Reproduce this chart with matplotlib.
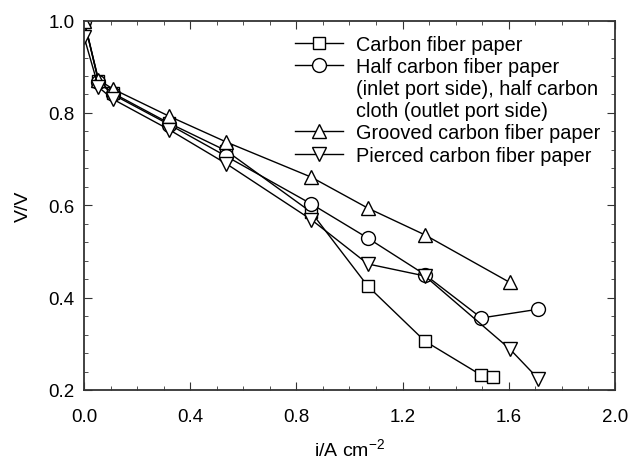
import numpy as np
import matplotlib
matplotlib.use("Agg")
from matplotlib import pyplot as plt
from matplotlib.lines import Line2D
from matplotlib.ticker import MultipleLocator

plt.rcParams['font.family'] = ['Liberation Sans', 'DejaVu Sans']
plt.rcParams['mathtext.fontset'] = 'custom'
plt.rcParams['mathtext.rm'] = 'Liberation Sans'

# current density (A cm-2) and cell voltage (V)
i_cfp = [0.0, 0.054, 0.108, 0.32, 0.536, 0.856, 1.069, 1.284, 1.497, 1.541]
v_cfp = [1.0, 0.870, 0.843, 0.778, 0.718, 0.585, 0.425, 0.306, 0.232, 0.228]

i_half = [0.0, 0.054, 0.108, 0.32, 0.536, 0.856, 1.069, 1.284, 1.497, 1.712]
v_half = [1.0, 0.868, 0.840, 0.775, 0.706, 0.603, 0.529, 0.450, 0.356, 0.375]

i_groove = [0.0, 0.054, 0.108, 0.32, 0.536, 0.856, 1.069, 1.284, 1.604]
v_groove = [1.0, 0.872, 0.852, 0.793, 0.737, 0.661, 0.594, 0.536, 0.433]

i_pierce = [0.0, 0.054, 0.108, 0.32, 0.536, 0.856, 1.069, 1.284, 1.604, 1.712]
v_pierce = [0.964, 0.856, 0.830, 0.764, 0.690, 0.569, 0.473, 0.447, 0.289, 0.224]

labels = ["Carbon fiber paper",
          ["Half carbon fiber paper", "(inlet port side), half carbon", "cloth (outlet port side)"],
          "Grooved carbon fiber paper",
          "Pierced carbon fiber paper"]

fig = plt.figure(figsize=(6.28, 4.6), dpi=100)
ax = fig.add_axes([0.134, 0.15, 0.845, 0.803])

series = [(i_cfp, v_cfp, 's'), (i_half, v_half, 'o'),
          (i_groove, v_groove, '^'), (i_pierce, v_pierce, 'v')]
handles, texts = [], []
for (x, y, m), lab in zip(series, labels):
    line, = ax.plot(x, y, color='black', lw=1, marker=m, ms=10 if m != 's' else 9,
                    mfc='white', mec='black', mew=1)
    if isinstance(lab, list):
        # multi-line entry: marker only on the first line
        handles.append(line)
        texts.append(lab[0])
        for extra in lab[1:]:
            handles.append(Line2D([], [], color='none'))
            texts.append(extra)
    else:
        handles.append(line)
        texts.append(lab)

ax.set_xlim(0, 2.0)
ax.set_ylim(0.2, 1.0)
ax.xaxis.set_major_locator(MultipleLocator(0.4))
ax.xaxis.set_minor_locator(MultipleLocator(0.1))
ax.yaxis.set_major_locator(MultipleLocator(0.2))
ax.yaxis.set_minor_locator(MultipleLocator(0.04))
ax.set_xticks(np.arange(0, 2.01, 0.4))
ax.set_xticklabels([f"{v:.1f}" for v in np.arange(0, 2.01, 0.4)])
ax.tick_params(which='both', direction='in', top=True, right=True, labelsize=13.5,
               color='#333333', pad=7)
ax.tick_params(axis='x', pad=13)
ax.tick_params(which='major', length=6)
ax.tick_params(which='minor', length=3)
for s in ax.spines.values():
    s.set_linewidth(1.3)
    s.set_color('#333333')

ax.set_xlabel("i/A cm$^{-2}$", fontsize=14, labelpad=9)
ax.set_ylabel("V/V", fontsize=14, labelpad=12)

ax.legend(handles, texts, loc='upper right', frameon=False, fontsize=14.3,
          handlelength=2.4, handletextpad=0.65, labelspacing=0.16,
          borderaxespad=0.0, borderpad=0.0, bbox_to_anchor=(0.972, 0.962))

fig.savefig("out.png", dpi=100)
